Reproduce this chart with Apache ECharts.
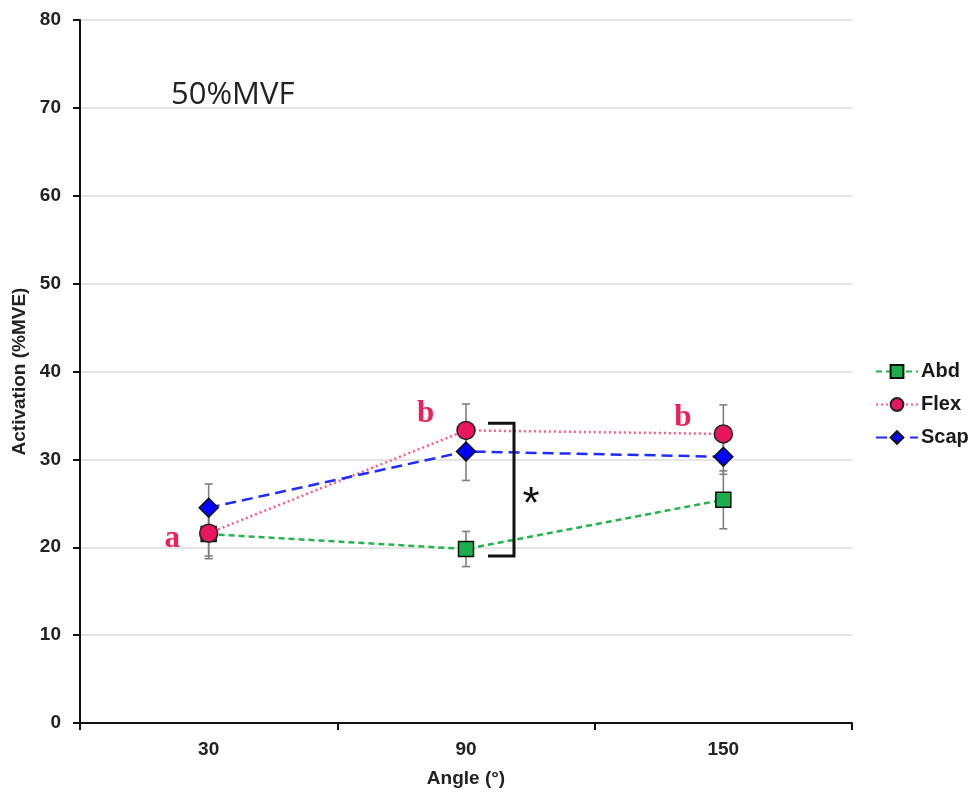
<!DOCTYPE html>
<html>
<head>
<meta charset="utf-8">
<script src="https://cdn.jsdelivr.net/npm/echarts@6/dist/echarts.min.js"></script>
<style>html,body{margin:0;padding:0;background:#fff}#c{width:972px;height:797px}</style>
</head>
<body>
<div id="c"></div>
<script>
const categories = ['30', '90', '150'];
const abd = [21.5, 19.8, 25.4];
const abdSd = [2.5, 2.0, 3.3];
const flex = [21.6, 33.3, 32.9];
const flexSd = [2.9, 3.0, 3.3];
const scap = [24.5, 30.9, 30.3];
const scapSd = [2.7, 3.3, 2.0];
const flexLetters = ['a', 'b', 'b'];
const bracketAt = 1;
const bracketTop = 34.1;
const bracketBottom = 19.0;
const yTicks = [0, 80, 10];

const chart = echarts.init(document.getElementById('c'));

function errData(v, sd) {
  return v.map((m, i) => [i, m - sd[i], m + sd[i]]);
}
function errSeries(name, v, sd) {
  return {
    type: 'custom', name: name + ' err', z: 1, silent: true,
    data: errData(v, sd),
    renderItem: function (params, api) {
      const lo = api.coord([api.value(0), api.value(1)]);
      const hi = api.coord([api.value(0), api.value(2)]);
      const st = { stroke: '#7f7f7f', lineWidth: 1.6 };
      return {
        type: 'group', children: [
          { type: 'line', shape: { x1: lo[0], y1: lo[1], x2: hi[0], y2: hi[1] }, style: st },
          { type: 'line', shape: { x1: lo[0] - 4, y1: lo[1], x2: lo[0] + 4, y2: lo[1] }, style: st },
          { type: 'line', shape: { x1: hi[0] - 4, y1: hi[1], x2: hi[0] + 4, y2: hi[1] }, style: st }
        ]
      };
    }
  };
}

const letterStyle = {
  show: true, fontFamily: 'Liberation Serif', fontWeight: 'bold', fontSize: 31, color: '#ee1f5a'
};
const axisFont = { fontFamily: 'Liberation Sans', fontWeight: 'bold', fontSize: 19, color: '#222' };

const option = {
  animation: false,
  backgroundColor: '#ffffff',
  grid: { left: 80, right: 120, top: 20, bottom: 74 },
  legend: {
    orient: 'vertical', left: 875, top: 361, padding: 0,
    itemWidth: 42, itemHeight: 16, itemGap: 12,
    textStyle: { fontFamily: 'Liberation Sans', fontWeight: 'bold', fontSize: 20, lineHeight: 21, color: '#1a1a1a', padding: [0, 0, 0, -2] },
    data: ['Abd', 'Flex', 'Scap']
  },
  xAxis: {
    type: 'category', data: categories, boundaryGap: true,
    name: 'Angle (°)', nameLocation: 'middle', nameGap: 46,
    nameTextStyle: axisFont,
    axisLine: { lineStyle: { color: '#111', width: 2 } },
    axisTick: { show: true, length: 7, lineStyle: { color: '#111', width: 2 } },
    axisLabel: Object.assign({ margin: 17 }, axisFont),
    splitLine: { show: false }
  },
  yAxis: {
    type: 'value', min: yTicks[0], max: yTicks[1], interval: yTicks[2],
    name: 'Activation (%MVE)', nameLocation: 'middle', nameGap: 51,
    nameTextStyle: axisFont,
    axisLine: { show: true, lineStyle: { color: '#111', width: 2 } },
    axisTick: { show: true, length: 7, lineStyle: { color: '#111', width: 2 } },
    axisLabel: Object.assign({ margin: 19 }, axisFont),
    splitLine: { lineStyle: { color: '#dcdcdc', width: 1.5 } }
  },
  graphic: [{
    type: 'text', left: 171, top: 80,
    style: { text: '50%MVF', fontFamily: 'Open Sans', fontSize: 31, fill: '#222' }
  }],
  series: [
    errSeries('Abd', abd, abdSd),
    errSeries('Flex', flex, flexSd),
    errSeries('Scap', scap, scapSd),
    {
      name: 'Abd', type: 'line', z: 3, data: abd,
      symbol: 'rect', symbolSize: 15,
      lineStyle: { color: '#25b34c', width: 2.5, type: [6, 4] },
      itemStyle: { color: '#1aaf4b', borderColor: '#111', borderWidth: 1.5 }
    },
    {
      name: 'Flex', type: 'line', z: 4,
      data: flex.map((v, i) => ({
        value: v,
        label: Object.assign({}, letterStyle, {
          formatter: flexLetters[i],
          position: 'left',
          distance: i === 0 ? 19 : 22,
          offset: i === 0 ? [0, 6] : [0, -16]
        })
      })),
      symbol: 'circle', symbolSize: 18,
      lineStyle: { color: '#ff5a86', width: 2.5, type: [2, 3] },
      itemStyle: { color: '#e8175d', borderColor: '#222', borderWidth: 1.5 }
    },
    {
      name: 'Scap', type: 'line', z: 5, data: scap,
      symbol: 'diamond', symbolSize: 19,
      lineStyle: { color: '#1f2bff', width: 2.5, type: [11, 6] },
      itemStyle: { color: '#0000ff', borderColor: '#111', borderWidth: 1.5 }
    },
    {
      type: 'custom', name: 'bracket', z: 6, silent: true,
      data: [[bracketAt, bracketTop, bracketBottom]],
      renderItem: function (params, api) {
        const t = api.coord([api.value(0), api.value(1)]);
        const b = api.coord([api.value(0), api.value(2)]);
        const x0 = t[0] + 22, x1 = t[0] + 48;
        return {
          type: 'group', children: [
            { type: 'polyline', shape: { points: [[x0, t[1]], [x1, t[1]], [x1, b[1]], [x0, b[1]]] },
              style: { stroke: '#111', lineWidth: 3, fill: null } },
            { type: 'text', style: { text: '*', x: x1 + 17, y: (t[1] + b[1]) / 2 + 16,
              align: 'center', verticalAlign: 'middle', fontFamily: 'Liberation Sans', fontSize: 44, fill: '#111' } }
          ]
        };
      }
    }
  ]
};
chart.setOption(option);
</script>
</body>
</html>
